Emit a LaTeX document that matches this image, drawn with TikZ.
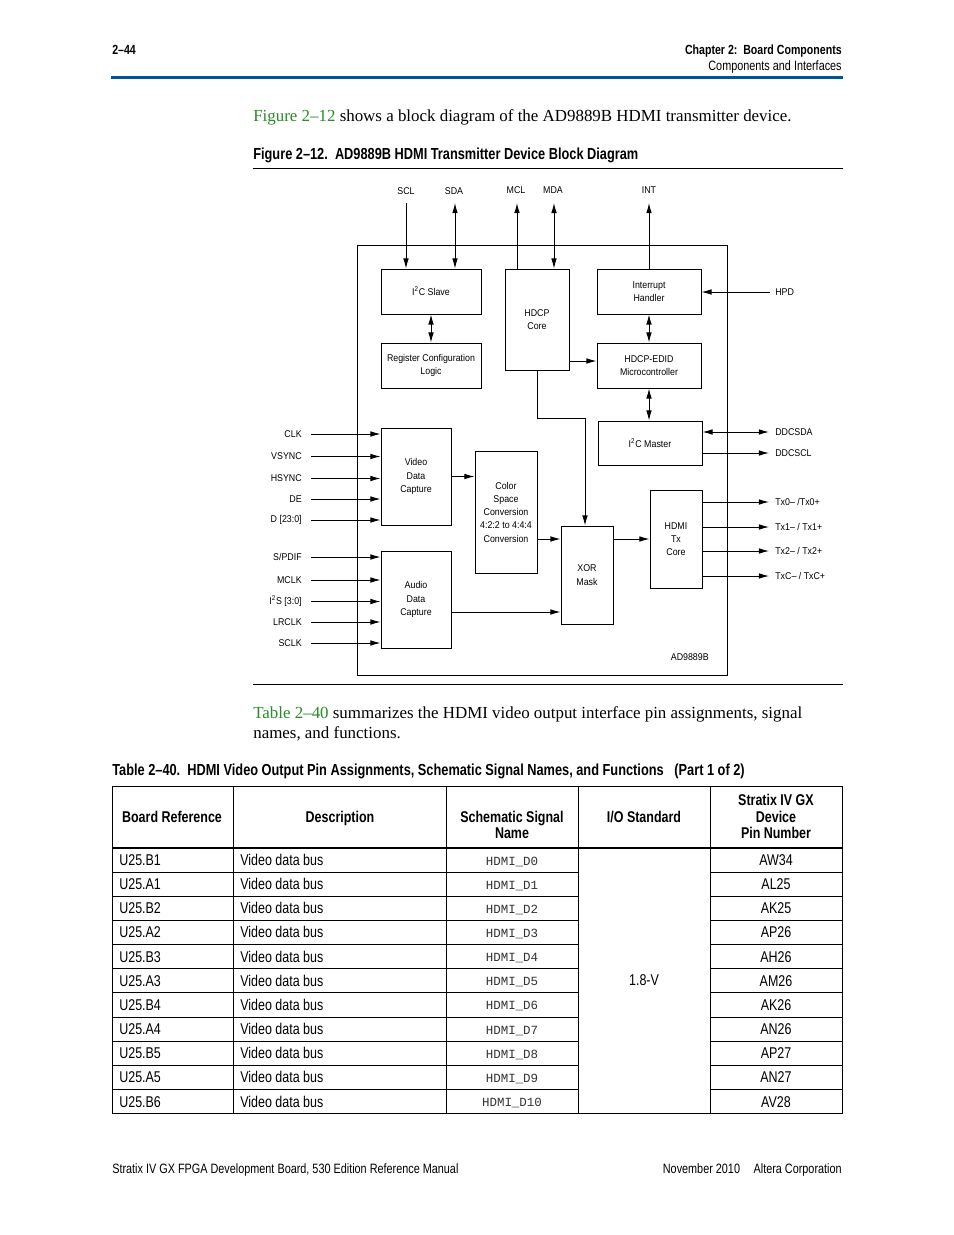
\documentclass[tikz,border=0pt]{standalone}
\usepackage{fontspec}
\setmainfont{Liberation Serif}
\newfontfamily\tabfont[FakeStretch=0.8]{Liberation Sans}
\newfontfamily\dgfont[FakeStretch=0.9]{Liberation Sans}
\newfontfamily\mnfont{Liberation Mono}
\usetikzlibrary{arrows.meta}
\definecolor{altblue}{RGB}{0,84,150}
\definecolor{lgreen}{RGB}{40,140,40}
\def\PX{0.6415pt}
\tikzset{
 ln/.style={line width=0.6pt},
 arr/.style={ln, -{Latex[length=6.5pt,width=3.6pt]}},
 darr/.style={ln, {Latex[length=6.5pt,width=3.6pt]}-{Latex[length=6.5pt,width=3.6pt]}},
 blk/.style={draw, ln, align=center, inner sep=0pt, font=\dgfont\fontsize{6.3}{8.5}\selectfont},
 lbl/.style={inner sep=0pt, font=\dgfont\fontsize{6.3}{8.5}\selectfont},
 tabtxt/.style={inner sep=0pt, font=\tabfont\fontsize{10}{12}\selectfont},
 tabbold/.style={inner sep=0pt, font=\tabfont\bfseries\fontsize{10}{12}\selectfont},
 capbold/.style={inner sep=0pt, font=\tabfont\bfseries\fontsize{10.25}{12}\selectfont},
 hdtxt/.style={inner sep=0pt, font=\tabfont\fontsize{8.7}{11}\selectfont},
 hdbold/.style={inner sep=0pt, font=\tabfont\bfseries\fontsize{8.5}{11}\selectfont},
 bodytxt/.style={inner sep=0pt, font=\fontsize{10.85}{13}\selectfont},
 monotxt/.style={inner sep=0pt, font=\mnfont\fontsize{8}{10}\selectfont, text=black!80},
 tl/.style={line width=0.6pt},
}
\newcommand\mybox[6]{\node[blk, minimum width={(#4-#2)*\PX}, minimum height={(#5-#3)*\PX}] (#1) at ({(#2+#4)/2},{(#3+#5)/2}) {#6};}
\newcommand\myin[4]{\node[lbl, anchor=east] (#1) at (302,#3) {#2}; \coordinate (#1c) at (311,#3); \draw[arr] (#1c) -- (#1c -| #4.west);}
\newcommand\myout[5]{\node[lbl, anchor=west] (#1) at (775,#3) {#2}; \coordinate (#1c) at (769,#3); \draw[#5] (#1c -| #4.east) -- (#1c);}
\begin{document}
\begin{tikzpicture}[x=0.6415pt,y=-0.6415pt]
\fill[white] (0,0) rectangle (954,1235);
\useasboundingbox (0,0) rectangle (954,1235);

% page header
\node[hdbold, anchor=base west] (pg) at (112,54) {2–44};
\node[hdbold, anchor=base east] (chap) at (842,54) {Chapter 2:\ \ Board Components};
\node[hdtxt, anchor=base east] (sect) at (842,70) {Components and Interfaces};
\draw[altblue, line width=1.6pt] (111,77.5) -- (843,77.5);

% paragraph 1
\node[bodytxt, anchor=base west] (p1) at (253,121) {\textcolor{lgreen}{Figure 2–12} shows a block diagram of the AD9889B HDMI transmitter device.};

% figure caption
\node[capbold, anchor=base west] (figcap) at (253,159.5) {Figure 2–12.\ \ AD9889B HDMI Transmitter Device Block Diagram};
\draw[tl] (253,168.5) -- (843,168.5);
\draw[tl] (253,684.5) -- (843,684.5);

% ---------------- diagram ----------------
\mybox{chip}{357}{245}{727}{675}{}
\mybox{sl}{381}{269}{481}{314}{I\textsuperscript{2}C Slave}
\mybox{rc}{381}{343}{481}{388}{Register Configuration\\Logic}
\mybox{hc}{505}{269}{569}{370}{HDCP\\Core}
\mybox{ih}{597}{269}{701}{314}{Interrupt\\Handler}
\mybox{em}{597}{343}{701}{388}{HDCP-EDID\\Microcontroller}
\mybox{im}{598}{421}{702}{465}{I\textsuperscript{2}C Master}
\mybox{vd}{381}{428}{451}{525}{Video\\Data\\Capture}
\mybox{cs}{475}{451}{537}{573}{Color\\Space\\Conversion\\4:2:2 to 4:4:4\\Conversion}
\mybox{ad}{381}{551}{451}{648}{Audio\\Data\\Capture}
\mybox{xm}{561}{526}{613}{624}{XOR\\Mask}
\mybox{ht}{650}{490}{702}{588}{HDMI\\Tx\\Core}
\node[lbl, anchor=east] (chipname) at (709,657) {AD9889B};

% top signals
\node[lbl] (scl) at (406,191.5) {SCL};
\node[lbl] (sda) at (454,191) {SDA};
\node[lbl] (mcl) at (516,190) {MCL};
\node[lbl] (mda) at (553,190) {MDA};
\node[lbl] (int) at (649,190) {INT};
\coordinate (sclc) at (406,203);
\coordinate (sdac) at (455,203);
\coordinate (mclc) at (517,203);
\coordinate (mdac) at (554,203);
\coordinate (intc) at (649,203);
\draw[arr] (sclc) -- (sclc |- sl.north);
\draw[darr] (sdac) -- (sdac |- sl.north);
\draw[arr] (mclc |- hc.north) -- (mclc);
\draw[darr] (mdac) -- (mdac |- hc.north);
\draw[arr] (ih.north) -- (intc);

% HPD
\node[lbl, anchor=west] (hpd) at (775,292) {HPD};
\coordinate (hpdc) at (770,292);
\draw[arr] (hpdc) -- (hpdc -| ih.east);

% internal
\draw[darr] (sl.south) -- (rc.north);
\draw[arr] ([yshift=4.5*\PX]em.west -| hc.east) -- ([yshift=4.5*\PX]em.west);
\draw[darr] (ih.south) -- (em.north);
\draw[darr] (em.south) -- (em.south |- im.north);
\coordinate (bend) at (585,418);
\draw[arr] (hc.south) |- (bend) -- (bend |- xm.north);
\draw[arr] (vd.east) -- (vd.east -| cs.west);
\draw[arr] (cs.east |- ht.west) -- (xm.west |- ht.west);
\draw[arr] ([yshift=-12.5*\PX]ad.east) -- ([yshift=-12.5*\PX]ad.east -| xm.west);
\draw[arr] (xm.east |- ht.west) -- (ht.west);

% right outputs
\myout{ddcsda}{DDCSDA}{432}{im}{darr}
\myout{ddcscl}{DDCSCL}{453}{im}{arr}
\myout{txz}{Tx0– /Tx0+}{502}{ht}{arr}
\myout{txa}{Tx1– / Tx1+}{527}{ht}{arr}
\myout{txb}{Tx2– / Tx2+}{551}{ht}{arr}
\myout{txc}{TxC– / TxC+}{576}{ht}{arr}

% left inputs
\myin{clk}{CLK}{434}{vd}
\myin{vsync}{VSYNC}{456.5}{vd}
\myin{hsync}{HSYNC}{478.5}{vd}
\myin{de}{DE}{499}{vd}
\myin{dd}{D [23:0]}{520}{vd}
\myin{spdif}{S/PDIF}{557}{ad}
\myin{mclk}{MCLK}{580}{ad}
\myin{iis}{I\textsuperscript{2}S [3:0]}{601.5}{ad}
\myin{lrclk}{LRCLK}{622}{ad}
\myin{sclk}{SCLK}{643}{ad}

% paragraph 2
\node[bodytxt, anchor=base west] (p2a) at (253,718) {\textcolor{lgreen}{Table 2–40} summarizes the HDMI video output interface pin assignments, signal};
\node[bodytxt, anchor=base west] (p2b) at (253,738) {names, and functions.};

% table caption
\node[capbold, anchor=base west] (tabcap) at (112,775) {Table 2–40.\ \ HDMI Video Output Pin Assignments, Schematic Signal Names, and Functions\ \ \ (Part 1 of 2)};

% table lines
\draw[tl] (112,786) -- (842,786);
\draw[tl] (112,1113.5) -- (842,1113.5);
\draw[line width=1.4pt] (112,848) -- (842,848);
\foreach \xx in {112,233,446,578,710,842} \draw[tl] (\xx,786) -- (\xx,1113.5);
\foreach \k in {1,...,10} {
  \draw[tl] (112,{848+24.15*\k}) -- (578,{848+24.15*\k});
  \draw[tl] (710,{848+24.15*\k}) -- (842,{848+24.15*\k});
}

% table header
\node[tabbold, anchor=base] (h1) at (172,822.5) {Board Reference};
\node[tabbold, anchor=base] (h2) at (340,822.5) {Description};
\node[tabbold, anchor=base] (h3a) at (512,822) {Schematic Signal};
\node[tabbold, anchor=base] (h3b) at (512,838) {Name};
\node[tabbold, anchor=base] (h4) at (644,822.5) {I/O Standard};
\node[tabbold, anchor=base] (h5a) at (776,805.5) {Stratix IV GX};
\node[tabbold, anchor=base] (h5b) at (776,822) {Device};
\node[tabbold, anchor=base] (h5c) at (776,838) {Pin Number};

% table rows
\foreach \br/\sig/\pin [count=\i from 0] in {U25.B1/D0/AW34, U25.A1/D1/AL25, U25.B2/D2/AK25, U25.A2/D3/AP26, U25.B3/D4/AH26, U25.A3/D5/AM26, U25.B4/D6/AK26, U25.A4/D7/AN26, U25.B5/D8/AP27, U25.A5/D9/AN27, U25.B6/D10/AV28} {
  \node[tabtxt, anchor=base west] (ref\i) at (119,{865.5+24.15*\i}) {\br};
  \node[tabtxt, anchor=base west] (desc\i) at (240,{865.5+24.15*\i}) {Video data bus};
  \node[monotxt, anchor=base] (sig\i) at (512,{865+24.15*\i}) {HDMI\_\sig};
  \node[tabtxt, anchor=base] (pin\i) at (776,{865.5+24.15*\i}) {\pin};
}
\node[tabtxt] (iostd) at (644,980) {1.8-V};

% footer
\node[hdtxt, anchor=base west] (footl) at (112,1173) {Stratix IV GX FPGA Development Board, 530 Edition Reference Manual};
\node[hdtxt, anchor=base east] (footr) at (842,1173) {November 2010\quad Altera Corporation};
\end{tikzpicture}
\end{document}
